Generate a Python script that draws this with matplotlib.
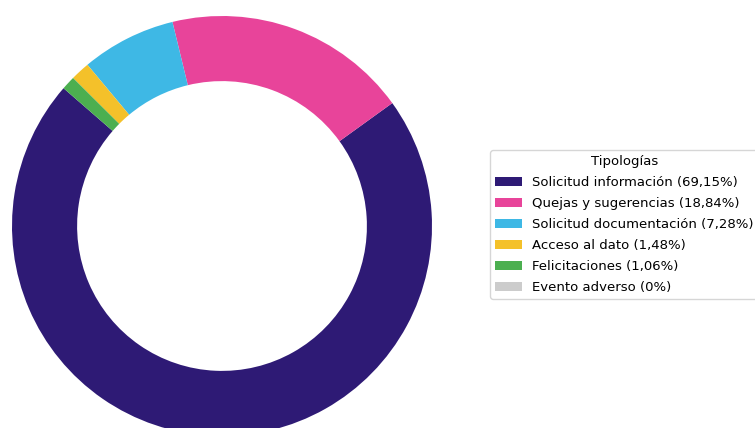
import matplotlib
matplotlib.use('Agg')
import matplotlib.pyplot as plt

# Tipologías y porcentajes mostrados en la leyenda
categorias = ['Solicitud información', 'Quejas y sugerencias', 'Solicitud documentación',
              'Acceso al dato', 'Felicitaciones', 'Evento adverso']
etiquetas_pct = ['69,15%', '18,84%', '7,28%', '1,48%', '1,06%', '0%']
valores = [71.34, 18.84, 7.28, 1.48, 1.06, 0.0]
colores = ['#2e1a75', '#e8449a', '#3eb8e5', '#f4c12a', '#4caf50', '#cccccc']

fig = plt.figure(figsize=(7.55, 4.28), dpi=100)
# el anillo queda recortado por abajo, como en el original
ax = fig.add_axes([12/755, -8/428, 420/755, 420/428])

wedges, _ = ax.pie(valores, colors=colores, startangle=139, counterclock=True,
                   wedgeprops=dict(width=0.31, edgecolor='none'))
ax.set_xlim(-1, 1); ax.set_ylim(-1, 1)
ax.set_aspect('equal')
ax.axis('off')

labels = ['%s (%s)' % (c, p) for c, p in zip(categorias, etiquetas_pct)]
fig.legend(wedges, labels, title='Tipologías', loc='upper left',
           bbox_to_anchor=(490/755, 1 - 150/428), fontsize=9.5, title_fontsize=9.5,
           labelspacing=0.6, borderaxespad=0)

fig.savefig('out.png', dpi=100)
